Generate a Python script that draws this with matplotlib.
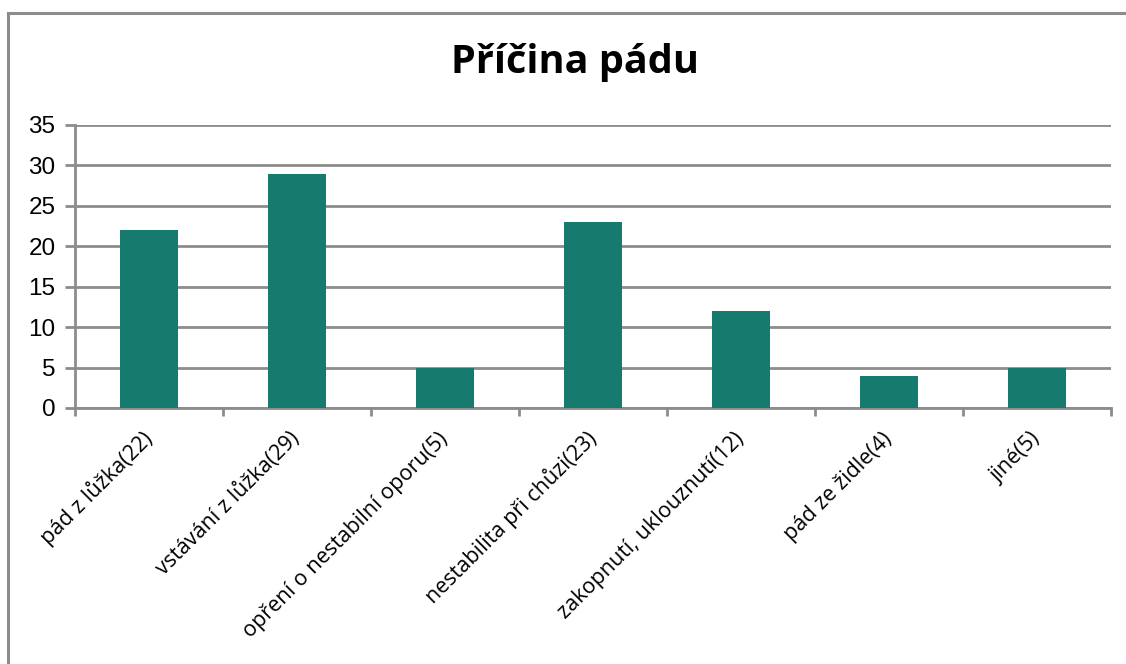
import matplotlib.pyplot as plt
from matplotlib.patches import Rectangle

categories = ["pád z lůžka(22)", "vstávání z lůžka(29)", "opření o nestabilní oporu(5)",
              "nestabilita při chůzi(23)", "zakopnutí, uklouznutí(12)", "pád ze židle(4)", "jiné(5)"]
values = [22, 29, 5, 23, 12, 4, 5]
y_ticks = [0, 5, 10, 15, 20, 25, 30, 35]

W, H = 1126, 664
fig = plt.figure(figsize=(W / 100, H / 100), dpi=100)

# outer chart border (only left and top visible)
fig.patches.append(Rectangle((8 / W, -0.1), 1.2, 1 - 13 / H + 0.1, transform=fig.transFigure,
                             fill=False, edgecolor='#8c8c8c', linewidth=2.2))

ax = fig.add_axes([75 / W, 1 - 408 / H, (1111 - 75) / W, (408 - 125) / H])
x = list(range(len(values)))
ax.bar(x, values, width=0.39, color='#177A6E', zorder=3)

ax.set_xlim(-0.5, len(values) - 0.5)
ax.set_ylim(0, 35)
ax.set_yticks(y_ticks)
ax.yaxis.grid(True, color='#8c8c8c', linewidth=2, zorder=0)

ax.set_xticks([i + 0.5 for i in range(-1, len(values))])
ax.set_xticklabels([])
ax.set_xticks(x, minor=True)
ax.set_xticklabels(categories, minor=True, rotation=45, ha='right', va='center',
                   rotation_mode='anchor', fontsize=15.5, family='Open Sans')
ax.tick_params(axis='x', which='minor', length=0, pad=20)
ax.tick_params(axis='x', which='major', length=6, width=2, color='#8c8c8c')
ax.tick_params(axis='y', length=7, width=2, color='#8c8c8c', labelsize=17.5, pad=7)
for lbl in ax.get_yticklabels():
    lbl.set_family('Liberation Sans')

for s in ['top', 'right']:
    ax.spines[s].set_visible(False)
for s in ['left', 'bottom']:
    ax.spines[s].set_color('#8c8c8c')
    ax.spines[s].set_linewidth(2)

fig.text(575 / W, 1 - 63 / H, "Příčina pádu", ha='center', va='center',
         fontsize=28.5, fontweight='bold', family='Open Sans')

fig.savefig('out.png', dpi=100)
